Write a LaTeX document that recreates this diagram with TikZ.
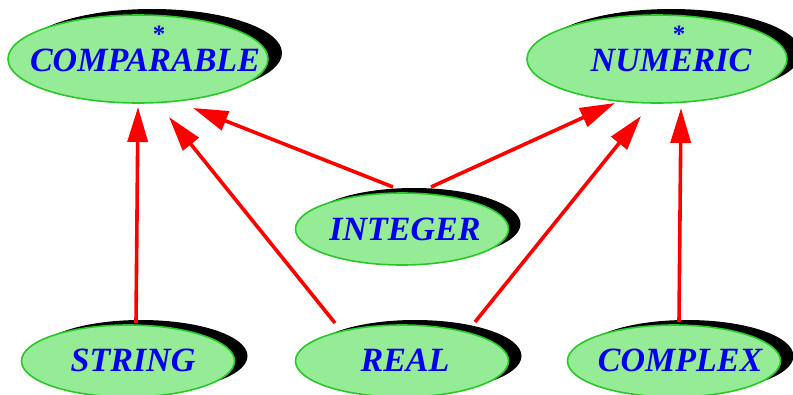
\documentclass[tikz,border=0pt]{standalone}
\usepackage{fontspec}
\setmainfont{Liberation Serif}
\usetikzlibrary{arrows.meta,calc,shapes.geometric}
\definecolor{cfill}{RGB}{150,235,150}
\definecolor{cline}{RGB}{40,200,40}
\definecolor{ctext}{RGB}{0,0,240}
\newcommand{\myast}{\raisebox{-9pt}[10pt][0pt]{*}}
\tikzset{
  cls/.style={ellipse, fill=cfill, draw=cline, line width=1.6pt, inner sep=0pt},
  bigcls/.style={cls, minimum width=260pt, minimum height=88pt},
  smallcls/.style={cls, minimum width=213pt, minimum height=72pt},
  shadowbig/.style={ellipse, fill=black, inner sep=0pt, minimum width=260pt, minimum height=88pt},
  shadowsmall/.style={ellipse, fill=black, inner sep=0pt, minimum width=213pt, minimum height=72pt},
  lbl/.style={text=ctext, font=\fontsize{34}{34}\selectfont\bfseries\itshape, inner sep=0pt},
  ast/.style={text=ctext, font=\fontsize{25}{25}\selectfont\bfseries, inner sep=0pt, anchor=north},
  inh/.style={draw=red, line width=3.6pt, -{Triangle[length=35pt,width=20pt]}}
}
\begin{document}
\begin{tikzpicture}[x=1pt,y=-1pt]
\useasboundingbox (0,0) rectangle (793,394);
% shadows
\node[shadowbig] at (152,53) {};
\node[shadowbig] at (671,53) {};
\node[shadowsmall] at (414,224) {};
\node[shadowsmall] at (141,356) {};
\node[shadowsmall] at (415,356) {};
\node[shadowsmall] at (687,356) {};
% classes
\node[bigcls] (COMPARABLE) at (138,59) {};
\node[bigcls] (NUMERIC) at (657,59) {};
\node[smallcls] (INTEGER) at (402,229) {};
\node[smallcls] (STRING) at (128,361) {};
\node[smallcls] (REAL) at (402,361) {};
\node[smallcls] (COMPLEX) at (674,361) {};
% labels
\node[lbl] (tCOMPARABLE) at (145,60) {COMPARABLE};
\node[ast] (sCOMPARABLE) at (159,23) {\myast};
\node[lbl] (tNUMERIC) at (671,60) {NUMERIC};
\node[ast] (sNUMERIC) at (679,23) {\myast};
\node[lbl] (tINTEGER) at (405,229) {INTEGER};
\node[lbl] (tSTRING) at (133,360) {STRING};
\node[lbl] (tREAL) at (405,360) {REAL};
\node[lbl] (tCOMPLEX) at (680,360) {COMPLEX};
% inheritance arrows
\draw[inh] ($(STRING)+(8,-38)$) -- ($(COMPARABLE)+(0,48)$);
\draw[inh] ($(REAL)+(-67,-38)$) -- ($(COMPARABLE)+(31,58)$);
\draw[inh] ($(INTEGER)+(-9,-42)$) -- ($(COMPARABLE)+(55,49)$);
\draw[inh] ($(INTEGER)+(29,-42)$) -- ($(NUMERIC)+(-42,44)$);
\draw[inh] ($(REAL)+(73,-39)$) -- ($(NUMERIC)+(-16,57)$);
\draw[inh] ($(COMPLEX)+(5,-39)$) -- ($(NUMERIC)+(24,49)$);
\end{tikzpicture}
\end{document}
